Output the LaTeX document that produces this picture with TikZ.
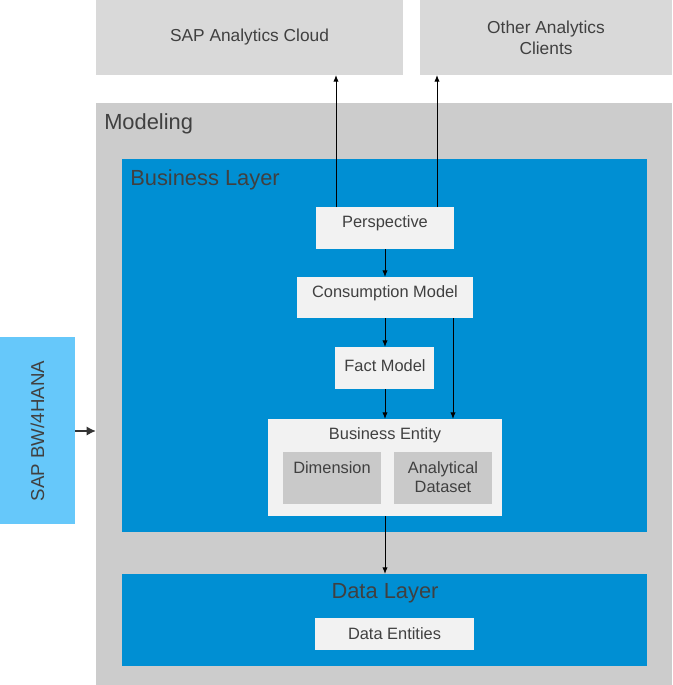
\documentclass[tikz,border=0pt]{standalone}
\usepackage{fontspec}
\setmainfont{Liberation Sans}
\usetikzlibrary{fit,arrows.meta}
\definecolor{topgray}{HTML}{D9D9D9}
\definecolor{modgray}{HTML}{CCCCCC}
\definecolor{sapblue}{HTML}{008FD3}
\definecolor{lightblue}{HTML}{66C8FA}
\definecolor{boxwhite}{HTML}{F2F2F2}
\definecolor{innergray}{HTML}{C9C9C9}
\definecolor{txtgray}{HTML}{404040}
\definecolor{arrgray}{HTML}{333333}
\tikzset{
  area/.style={inner sep=0pt, outer sep=0pt, draw=none},
  boxtxt/.style={text=txtgray, font=\fontsize{12.3}{14.5}\selectfont, align=center},
  toptxt/.style={text=txtgray, font=\fontsize{13}{15.8}\selectfont, align=center},
  laytxt/.style={text=txtgray, font=\fontsize{16.4}{19}\selectfont, inner sep=0pt},
  arr/.style={-{Latex[length=5pt,width=4pt]}, line width=0.75pt, black},
  bwarr/.style={-{Latex[length=7pt,width=7pt]}, line width=2pt, arrgray}
}
\begin{document}
\begin{tikzpicture}[x=0.75pt,y=-0.75pt]
\useasboundingbox (0,0) rectangle (672,685);
% top clients
\node[area, fill=topgray, fit={(96,0)(403,75)}] (sac) {};
\node[toptxt] (sactxt) at (249.5,37) {SAP Analytics Cloud};
\node[area, fill=topgray, fit={(420,0)(672,75)}] (oac) {};
\node[toptxt] (oactxt) at (546,37.5) {Other Analytics\\Clients};
% modeling
\node[area, fill=modgray, fit={(96,103)(672,685)}] (mod) {};
\node[laytxt, anchor=north west] (modlbl) at (104,113) {Modeling};
% business layer
\node[area, fill=sapblue, fit={(122,159)(647,532)}] (bl) {};
\node[laytxt, anchor=north west] (bllbl) at (130,169) {Business Layer};
% boxes
\node[area, fill=boxwhite, fit={(316,207)(454,249)}] (persp) {};
\node[boxtxt, anchor=center] (persptxt) at (385,223) {Perspective};
\node[area, fill=boxwhite, fit={(297,277)(473,318)}] (cm) {};
\node[boxtxt, anchor=center] (cmtxt) at (385,293) {Consumption Model};
\node[area, fill=boxwhite, fit={(335,347)(434,389)}] (fm) {};
\node[boxtxt, anchor=center] (fmtxt) at (385,366) {Fact Model};
\node[area, fill=boxwhite, fit={(268,419)(502,516)}] (be) {};
\node[boxtxt, anchor=center] (betxt) at (385,435) {Business Entity};
\node[area, fill=innergray, fit={(283,452)(381,504)}] (dim) {};
\node[boxtxt, anchor=north] (dimtxt) at (332,457) {Dimension};
\node[area, fill=innergray, fit={(394,452)(492,504)}] (ad) {};
\node[boxtxt, anchor=north] (adtxt) at (443,457) {Analytical\\Dataset};
% data layer
\node[area, fill=sapblue, fit={(122,574)(647,666)}] (dl) {};
\node[laytxt, anchor=center] (dllbl) at (385,593) {Data Layer};
\node[area, fill=boxwhite, fit={(315,618)(474,650)}] (de) {};
\node[boxtxt] (detxt) at (394.5,634) {Data Entities};
% BW/4HANA
\node[area, fill=lightblue, fit={(0,337)(75,524)}] (bw) {};
\node[toptxt, rotate=90, anchor=center, font=\fontsize{14}{16}\selectfont] (bwtxt) at (37.5,431) {SAP BW/4HANA};
% helper coordinates
\coordinate (x336) at (336,0);
\coordinate (x437) at (437,0);
\coordinate (x385) at (385,0);
\coordinate (x453) at (453,0);
\coordinate (y431) at (0,431);
% connectors
\draw[arr] (persp.north -| x336) -- (sac.south -| x336);
\draw[arr] (persp.north -| x437) -- (oac.south -| x437);
\draw[arr] (persp.south -| x385) -- (cm.north -| x385);
\draw[arr] (cm.south -| x385) -- (fm.north -| x385);
\draw[arr] (cm.south -| x453) -- (be.north -| x453);
\draw[arr] (fm.south -| x385) -- (be.north -| x385);
\draw[arr] (be.south -| x385) -- (dl.north -| x385);
\draw[bwarr] (bw.east |- y431) -- (mod.west |- y431);
\end{tikzpicture}
\end{document}
